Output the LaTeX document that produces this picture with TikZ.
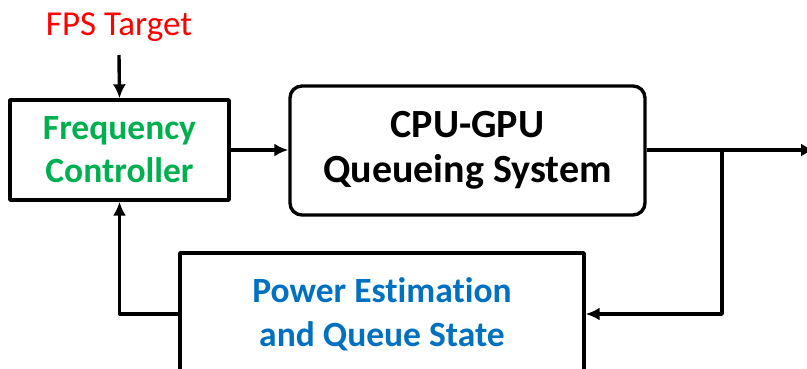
\documentclass[tikz,border=0pt]{standalone}
\usepackage{fontspec}
\setmainfont{Carlito}[Ligatures={NoCommon}]
\usetikzlibrary{arrows.meta}
\definecolor{ctrlgreen}{RGB}{0,176,80}
\definecolor{estblue}{RGB}{0,112,192}
\begin{document}
\begin{tikzpicture}[x=1pt, y=-1pt, line width=3.4pt, line join=round, >={Latex[length=14pt,width=13pt]}]
	\tikzset{box/.style={draw, line width=3.4pt, align=center, font=\fontsize{35.5}{43}\selectfont\bfseries}}
	\useasboundingbox (0,0) rectangle (807,369);
	\node[text=red, font=\fontsize{35}{40}\selectfont] (fps) at (119,27) {FPS Target};
	\node[box, text=ctrlgreen, minimum width=219pt, minimum height=100pt] (freq) at (119.5,150) {Frequency\\Controller};
	\node[box, rounded corners=12pt, minimum width=355pt, minimum height=129pt, font=\fontsize{40}{45}\selectfont\bfseries] (cpu) at (467.5,150.5) {CPU-GPU\\Queueing System};
	\node[box, text=estblue, minimum width=404pt, minimum height=122pt, font=\fontsize{35.5}{44}\selectfont\bfseries] (power) at (382,314) {Power Estimation\\and Queue State};
	\coordinate (branch) at (722,150);
	\coordinate (out) at (815,150);
	\draw[->] (119,55) -- (freq.north);
	\draw[->] (freq.east) -- (cpu.west |- freq.east);
	\draw[->] (cpu.east |- branch) -- (out);
	\draw[->] (branch) |- (power.east);
	\draw[->] (power.west) -| (freq.south);
\end{tikzpicture}
\end{document}
